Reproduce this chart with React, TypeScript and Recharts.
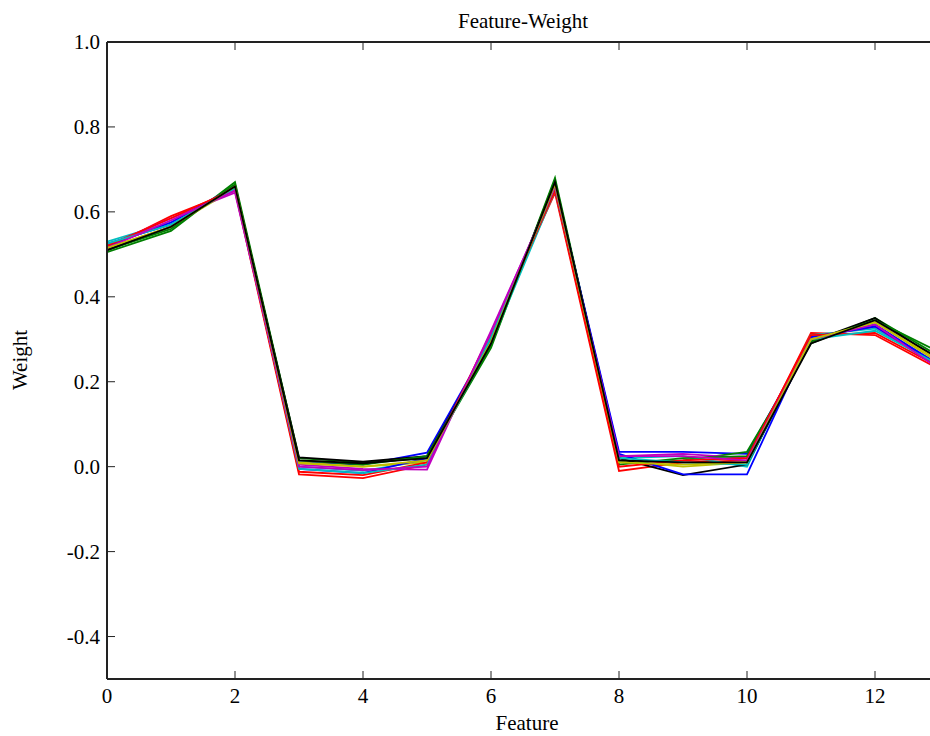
import React from "react";
import { LineChart, Line, XAxis, YAxis } from "recharts";

const features = [0, 1, 2, 3, 4, 5, 6, 7, 8, 9, 10, 11, 12, 13];
const xTicks = [0, 2, 4, 6, 8, 10, 12];
const yTicks = [-0.4, -0.2, 0.0, 0.2, 0.4, 0.6, 0.8, 1.0];
const colors = ["#0000ff", "#008000", "#ff0000", "#00bfbf", "#bf00bf", "#bfbf00", "#000000"];

const s1 = [0.525, 0.57, 0.655, 0.01, 0.005, 0.033, 0.3, 0.665, 0.035, 0.035, 0.03, 0.3, 0.335, 0.24];
const s2 = [0.505, 0.555, 0.67, 0.02, 0.01, 0.02, 0.28, 0.68, 0.01, 0.015, 0.035, 0.29, 0.35, 0.26];
const s3 = [0.515, 0.59, 0.65, -0.018, -0.027, 0.005, 0.315, 0.645, -0.01, 0.01, 0.015, 0.315, 0.31, 0.23];
const s4 = [0.53, 0.575, 0.66, 0.0, -0.01, 0.015, 0.29, 0.65, 0.02, 0.025, 0.0, 0.31, 0.325, 0.24];
const s5 = [0.52, 0.585, 0.645, 0.005, -0.005, -0.007, 0.32, 0.655, 0.025, 0.03, 0.02, 0.305, 0.33, 0.235];
const s6 = [0.515, 0.565, 0.655, 0.01, 0.0, 0.01, 0.3, 0.66, 0.015, 0.0, 0.01, 0.3, 0.34, 0.245];
const s7 = [0.51, 0.565, 0.66, 0.022, 0.012, 0.025, 0.295, 0.67, 0.02, -0.02, 0.005, 0.295, 0.35, 0.25];
const s8 = [0.52, 0.575, 0.66, -0.005, -0.015, 0.02, 0.3, 0.665, 0.03, -0.018, -0.018, 0.305, 0.33, 0.24];
const s9 = [0.51, 0.56, 0.665, 0.015, 0.005, 0.025, 0.285, 0.675, 0.005, 0.02, 0.025, 0.295, 0.345, 0.27];
const s10 = [0.52, 0.585, 0.655, -0.012, -0.02, 0.01, 0.31, 0.65, 0.0, 0.015, 0.02, 0.31, 0.315, 0.235];
const s11 = [0.525, 0.57, 0.655, -0.005, -0.015, 0.005, 0.305, 0.66, 0.02, 0.01, 0.005, 0.3, 0.32, 0.24];
const s12 = [0.515, 0.58, 0.65, 0.0, -0.008, 0.0, 0.315, 0.66, 0.025, 0.025, 0.015, 0.3, 0.335, 0.23];
const s13 = [0.515, 0.565, 0.66, 0.008, 0.0, 0.015, 0.295, 0.665, 0.01, 0.005, 0.01, 0.3, 0.34, 0.25];
const s14 = [0.51, 0.565, 0.66, 0.015, 0.008, 0.02, 0.29, 0.67, 0.015, 0.01, 0.01, 0.29, 0.345, 0.255];

const series = [s1, s2, s3, s4, s5, s6, s7, s8, s9, s10, s11, s12, s13, s14];

const data = features.map((f, i) => {
  const row: any = { feature: f };
  series.forEach((s, k) => {
    row["s" + k] = s[i];
  });
  return row;
});

const FONT = "'Liberation Serif', 'Times New Roman', serif";
const FS = 21;
const TICK_LEN = 8;
const SPINE = "#222";

// layout constants
const M_TOP = 41;
const TOP_AXIS_H = 1;
const M_LEFT = 47;
const Y_AXIS_W = 60;
const M_BOTTOM = 27;
const X_AXIS_H = 30;
const CH = 736;
const PLOT_LEFT = M_LEFT + Y_AXIS_W; // 107
const PLOT_TOP = M_TOP + TOP_AXIS_H; // 42
const PLOT_BOTTOM = CH - M_BOTTOM - X_AXIS_H; // 679

const BottomTick = (props: any) => {
  const { x, payload } = props;
  return (
    <g>
      <line x1={x} y1={PLOT_BOTTOM} x2={x} y2={PLOT_BOTTOM - TICK_LEN} stroke={SPINE} strokeWidth={1} />
      <text x={x} y={703} textAnchor="middle" fontFamily={FONT} fontSize={FS} fill="#000">
        {payload.value}
      </text>
    </g>
  );
};

const TopTick = (props: any) => {
  const { x } = props;
  return <line x1={x} y1={PLOT_TOP} x2={x} y2={PLOT_TOP + TICK_LEN} stroke={SPINE} strokeWidth={1} />;
};

const LeftTick = (props: any) => {
  const { y, payload } = props;
  return (
    <g>
      <line x1={PLOT_LEFT} y1={y} x2={PLOT_LEFT + TICK_LEN} y2={y} stroke={SPINE} strokeWidth={1} />
      <text x={PLOT_LEFT - 7} y={y} dy="0.35em" textAnchor="end" fontFamily={FONT} fontSize={FS} fill="#000">
        {Number(payload.value).toFixed(1)}
      </text>
    </g>
  );
};

export default function App() {
  return (
    <div style={{ position: "absolute", left: 0, top: 0, width: 930, height: 736, overflow: "hidden", background: "#fff" }}>
      <div style={{ position: "absolute", left: 0, top: 0 }}>
        <LineChart
          width={960}
          height={CH}
          data={data}
          margin={{ top: M_TOP, right: 21, bottom: M_BOTTOM, left: M_LEFT }}
        >
          <XAxis
            dataKey="feature"
            type="number"
            domain={[0, 13]}
            ticks={xTicks}
            allowDataOverflow
            height={X_AXIS_H}
            tickSize={0}
            tick={<BottomTick />}
            axisLine={{ stroke: SPINE, strokeWidth: 2 }}
            tickLine={false}
            interval={0}
          />
          <XAxis
            xAxisId="top"
            orientation="top"
            dataKey="feature"
            type="number"
            domain={[0, 13]}
            ticks={xTicks}
            allowDataOverflow
            height={TOP_AXIS_H}
            tickSize={0}
            tick={<TopTick />}
            axisLine={{ stroke: SPINE, strokeWidth: 2 }}
            tickLine={false}
            interval={0}
          />
          <YAxis
            type="number"
            domain={[-0.5, 1.0]}
            ticks={yTicks}
            allowDataOverflow
            width={Y_AXIS_W}
            tickSize={0}
            tick={<LeftTick />}
            axisLine={{ stroke: SPINE, strokeWidth: 2 }}
            tickLine={false}
            interval={0}
          />
          {series.map((_, k) => (
            <Line
              key={k}
              dataKey={"s" + k}
              stroke={colors[k % colors.length]}
              strokeWidth={1.8}
              dot={false}
              isAnimationActive={false}
              type="linear"
            />
          ))}
        </LineChart>
      </div>
      <div
        style={{
          position: "absolute",
          left: 0,
          width: 1046,
          top: 8,
          textAlign: "center",
          fontFamily: FONT,
          fontSize: FS,
          lineHeight: "26px",
          color: "#000",
        }}
      >
        Feature-Weight
      </div>
      <div
        style={{
          position: "absolute",
          left: 4,
          width: 1046,
          top: 711,
          textAlign: "center",
          fontFamily: FONT,
          fontSize: FS,
          lineHeight: "24px",
          color: "#000",
        }}
      >
        Feature
      </div>
      <div
        style={{
          position: "absolute",
          left: 20,
          top: 360,
          transform: "translate(-50%, -50%) rotate(-90deg)",
          fontFamily: FONT,
          fontSize: FS,
          lineHeight: "26px",
          color: "#000",
          whiteSpace: "nowrap",
        }}
      >
        Weight
      </div>
    </div>
  );
}
